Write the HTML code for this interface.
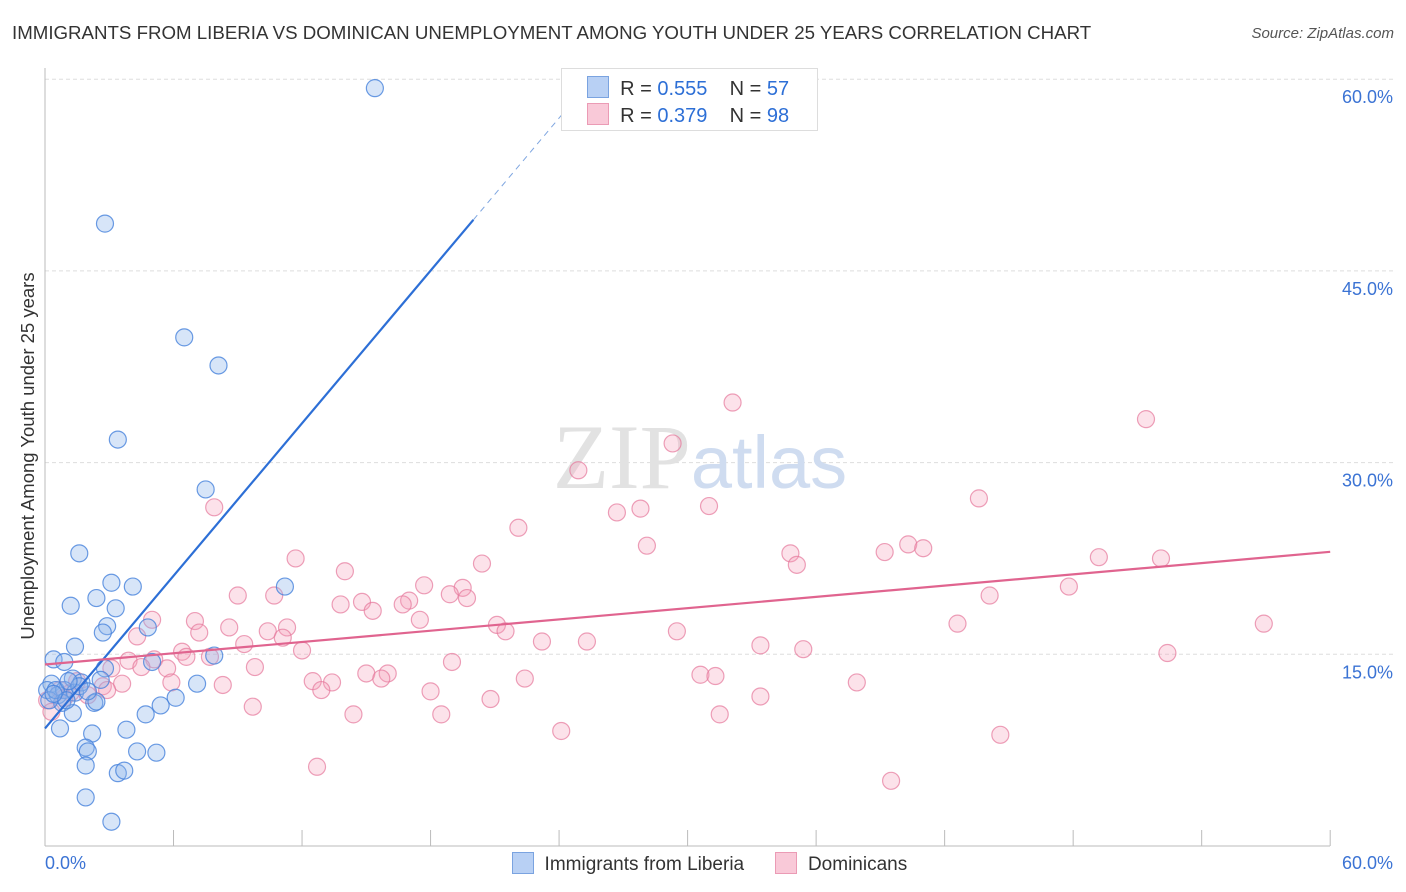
<!DOCTYPE html>
<html><head><meta charset="utf-8"><style>
body{margin:0;background:#fff;font-family:"Liberation Sans",sans-serif;}
#wrap{position:relative;width:1406px;height:892px;overflow:hidden;}
.t{position:absolute;white-space:nowrap;}
</style></head><body>
<div id="wrap">
<div class="t" style="left:12px;top:22px;font-size:18.7px;color:#333;">IMMIGRANTS FROM LIBERIA VS DOMINICAN UNEMPLOYMENT AMONG YOUTH UNDER 25 YEARS CORRELATION CHART</div>
<div class="t" style="right:12px;top:25px;font-size:15px;color:#555;font-style:italic;">Source: ZipAtlas.com</div>
<svg id="svg" width="1406" height="892" style="position:absolute;left:0;top:0"></svg>
</div>
<script>
const blueX=[15.4,2.8,6.5,8.1,3.4,7.5,1.6,3.1,4.1,11.2,1.2,2.4,3.3,2.9,2.7,4.8,1.4,7.9,0.4,0.9,5.0,2.8,1.3,2.6,0.3,0.1,0.6,0.9,1.4,1.7,7.1,6.1,2.3,2.4,0.8,1.3,5.4,4.7,0.7,3.8,2.2,1.9,2.0,4.3,5.2,1.9,3.4,3.7,1.9,3.1,0.2,0.5,1.0,1.6,0.4,2.0,1.1];
const blueY=[59.3,48.7,39.8,37.6,31.8,27.9,22.9,20.6,20.3,20.3,18.8,19.4,18.6,17.2,16.7,17.1,15.6,14.9,14.6,14.4,14.4,13.9,13.1,13.0,12.7,12.2,11.8,12.2,12.0,12.8,12.7,11.6,11.2,11.3,11.2,10.4,11.0,10.3,9.2,9.1,8.8,7.7,7.4,7.4,7.3,6.3,5.7,5.9,3.8,1.9,11.4,12.2,11.4,12.5,11.9,12.1,12.9];
const pinkX=[32.1,51.4,29.3,24.9,7.9,43.6,26.7,27.8,31.0,22.1,28.1,40.3,41.0,39.2,34.8,35.1,49.2,52.1,11.7,20.4,14.0,47.8,17.7,19.5,18.9,19.7,9.0,10.7,17.0,16.7,44.1,14.8,13.8,15.3,17.5,5.0,7.0,42.6,56.9,8.6,11.3,21.1,21.5,29.5,10.4,7.2,4.3,23.2,25.3,9.3,11.1,33.4,35.4,52.4,12.0,6.4,6.6,7.7,5.1,3.9,19.0,9.8,3.1,4.5,5.7,15.0,16.0,15.7,30.6,31.3,12.5,13.4,22.4,5.9,2.7,3.6,8.3,37.9,12.9,18.0,2.9,33.4,20.8,9.7,14.4,18.5,31.5,24.1,44.6,12.7,39.5,0.7,1.2,0.1,2.0,0.3,1.5,0.9];
const pinkY=[34.7,33.4,31.5,29.4,26.5,27.2,26.1,26.4,26.6,24.9,23.5,23.6,23.3,23.0,22.9,22.0,22.6,22.5,22.5,22.1,21.5,20.3,20.4,20.2,19.7,19.4,19.6,19.6,19.2,18.9,19.6,19.1,18.9,18.4,17.7,17.7,17.6,17.4,17.4,17.1,17.1,17.3,16.8,16.8,16.8,16.7,16.4,16.0,16.0,15.8,16.3,15.7,15.4,15.1,15.3,15.2,14.8,14.8,14.6,14.5,14.4,14.0,13.9,14.0,13.9,13.5,13.5,13.1,13.4,13.3,12.9,12.8,13.1,12.8,12.5,12.7,12.6,12.8,12.2,12.1,12.2,11.7,11.5,10.9,10.3,10.3,10.3,9.0,8.7,6.2,5.1,12.2,12.0,11.4,11.8,10.5,12.9,11.6];
const yTicks=[15,30,45,60];
const xTicks=[0,6,12,18,24,30,36,42,48,54,60];
const blueTrend=[9.2,1.99]; // intercept, slope
const pinkTrend=[14.2,0.147];
const X=v=>45+v*21.42, Y=v=>846-v*12.78;
const svg=document.getElementById('svg');
const NS='http://www.w3.org/2000/svg';
function mk(tag,attrs){const e=document.createElementNS(NS,tag);for(const k in attrs)e.setAttribute(k,attrs[k]);svg.appendChild(e);return e;}
yTicks.forEach(v=>{
 const g=mk('line',{x1:45,x2:1393,y1:Y(v),y2:Y(v),stroke:'#ddd','stroke-dasharray':'4,3'});
 
 
 const t=mk('text',{x:1393,y:Y(v)+24,'text-anchor':'end','font-size':18,fill:'#3b73d4','font-family':'Liberation Sans, sans-serif'});
 t.textContent=v.toFixed(1)+'%';
 
 
});
let a=mk('line',{x1:45,x2:45,y1:68,y2:846,stroke:'#bbb'});


a=mk('line',{x1:45,x2:1330,y1:846,y2:846,stroke:'#bbb'});


xTicks.forEach(v=>{const l=mk('line',{x1:X(v),x2:X(v),y1:830,y2:846,stroke:'#bbb'});
 
 });
[['0.0%',45,'start'],['60.0%',1393,'end']].forEach(d=>{const t=mk('text',{x:d[1],y:869,'text-anchor':d[2],'font-size':18,fill:'#3b73d4','font-family':'Liberation Sans, sans-serif'});t.textContent=d[0];
 
 });
let yt=mk('text',{x:0,y:0,transform:'translate(34,456) rotate(-90)','text-anchor':'middle','font-size':18.5,fill:'#333','font-family':'Liberation Sans, sans-serif'});
yt.textContent='Unemployment Among Youth under 25 years';


let wm=mk('text',{x:718,y:488,'text-anchor':'middle','font-size':92,fill:'#e2e2e2','font-family':'Liberation Serif, serif'});
wm.innerHTML='ZIP<tspan fill="#cfdcf0" font-family="Liberation Sans, sans-serif" font-size="74">atlas</tspan>';


wm.setAttribute('x', 700);
pinkX.forEach((v,i)=>{const c=mk('circle',{cx:X(v),cy:Y(pinkY[i]),r:8.5,fill:'rgba(244,160,185,0.3)',stroke:'rgba(230,120,155,0.7)','stroke-width':1.2});
 
 });
blueX.forEach((v,i)=>{const c=mk('circle',{cx:X(v),cy:Y(blueY[i]),r:8.5,fill:'rgba(140,180,235,0.35)',stroke:'rgba(70,130,220,0.8)','stroke-width':1.2});
 
 });
let l=mk('line',{x1:X(0),y1:Y(blueTrend[0]),x2:X(20),y2:Y(blueTrend[0]+blueTrend[1]*20),stroke:'#2d6fd6','stroke-width':2.2});


l=mk('line',{x1:X(20),y1:Y(blueTrend[0]+blueTrend[1]*20),x2:X(25.5),y2:Y(blueTrend[0]+blueTrend[1]*25.5),stroke:'#7fa6e0','stroke-width':1,'stroke-dasharray':'6,5'});


l=mk('line',{x1:X(0),y1:Y(pinkTrend[0]),x2:X(60),y2:Y(pinkTrend[0]+pinkTrend[1]*60),stroke:'#e0648f','stroke-width':2.2});


</script>
<div class="t" style="left:561px;top:68px;width:255px;height:61px;border:1px solid #ddd;background:#fff;font-size:20px;color:#333;">
 <div style="position:absolute;left:25px;top:7px;"><span style="display:inline-block;width:20px;height:20px;background:#b8d0f4;border:1px solid #7aa3e0;vertical-align:-3px;"></span>&nbsp; R = <span style="color:#2d6fd6">0.555</span>&nbsp;&nbsp;&nbsp; N = <span style="color:#2d6fd6">57</span></div>
 <div style="position:absolute;left:25px;top:34px;"><span style="display:inline-block;width:20px;height:20px;background:#f9c9d8;border:1px solid #eb9bb5;vertical-align:-3px;"></span>&nbsp; R = <span style="color:#2d6fd6">0.379</span>&nbsp;&nbsp;&nbsp; N = <span style="color:#2d6fd6">98</span></div>
</div>
<div class="t" style="left:512px;top:852px;font-size:19px;color:#333;">
 <span><span style="display:inline-block;width:20px;height:20px;background:#b8d0f4;border:1px solid #7aa3e0;vertical-align:-4px;"></span>&nbsp; Immigrants from Liberia</span>
 <span style="margin-left:26px;"><span style="display:inline-block;width:20px;height:20px;background:#f9c9d8;border:1px solid #eb9bb5;vertical-align:-4px;"></span>&nbsp; Dominicans</span>
</div>
</body></html>
